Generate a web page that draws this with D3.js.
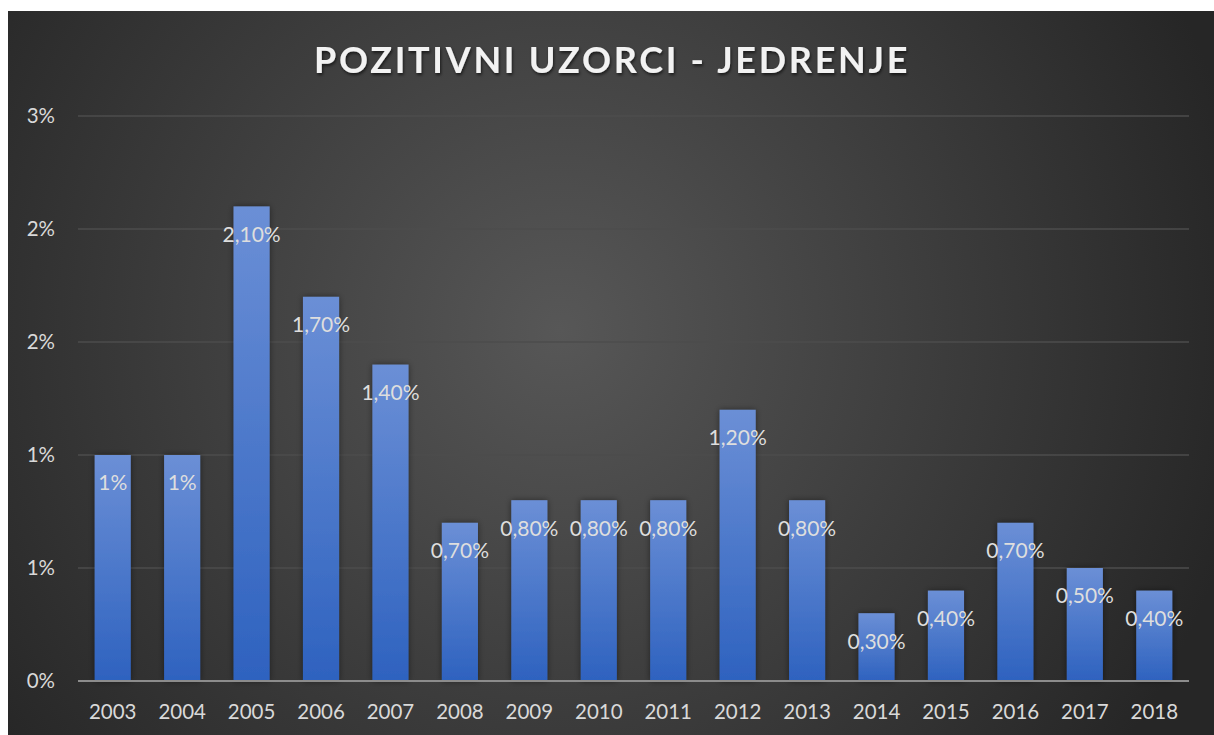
<!DOCTYPE html>
<html>
<head>
<meta charset="utf-8">
<script src="https://cdn.jsdelivr.net/npm/d3@7"></script>
<style>
  body { margin: 0; background: #fff; }
  svg { display: block; }
</style>
</head>
<body>
<script>
(function() {

    var width = 1214;
    var height = 735;

    // data
    const years = ["2003", "2004", "2005", "2006", "2007", "2008", "2009", "2010",
                   "2011", "2012", "2013", "2014", "2015", "2016", "2017", "2018"];
    const values = [0.010, 0.010, 0.021, 0.017, 0.014, 0.007, 0.008, 0.008,
                    0.008, 0.012, 0.008, 0.003, 0.004, 0.007, 0.005, 0.004];
    const labels = ["1%", "1%", "2,10%", "1,70%", "1,40%", "0,70%", "0,80%", "0,80%",
                    "0,80%", "1,20%", "0,80%", "0,30%", "0,40%", "0,70%", "0,50%", "0,40%"];
    const yTicks = [0, 0.005, 0.01, 0.015, 0.02, 0.025];
    const title = "POZITIVNI UZORCI - JEDRENJE";

    const font = "Lato, 'Open Sans', sans-serif";

    const svg = d3.select("body")
      .append("svg")
      .attr("width", width)
      .attr("height", height);

    const defs = svg.append("defs");

    //background gradient
    const bg = defs.append("radialGradient")
        .attr("id", "bg")
        .attr("gradientUnits", "userSpaceOnUse")
        .attr("cx", 560).attr("cy", 330).attr("r", 700);
    bg.append("stop").attr("offset", "0%").attr("stop-color", "#575757");
    bg.append("stop").attr("offset", "100%").attr("stop-color", "#262626");

    //bar gradient
    const bar = defs.append("linearGradient")
        .attr("id", "bar")
        .attr("x1", 0).attr("y1", 0).attr("x2", 0).attr("y2", 1);
    bar.append("stop").attr("offset", "0%").attr("stop-color", "#6b8fd6");
    bar.append("stop").attr("offset", "100%").attr("stop-color", "#2e62bf");

    const shadow = defs.append("filter").attr("id", "shadow")
        .attr("x", "-30%").attr("y", "-10%").attr("width", "160%").attr("height", "120%");
    shadow.append("feDropShadow")
        .attr("dx", 0).attr("dy", 0).attr("stdDeviation", 3)
        .attr("flood-color", "#000").attr("flood-opacity", 0.45);

    const tshadow = defs.append("filter").attr("id", "tshadow");
    tshadow.append("feDropShadow")
        .attr("dx", 1).attr("dy", 2).attr("stdDeviation", 1.5)
        .attr("flood-color", "#000").attr("flood-opacity", 0.6);

    svg.append("rect")
        .attr("x", 8).attr("y", 11)
        .attr("width", width - 8).attr("height", height - 11)
        .attr("fill", "url(#bg)");

    //scales
    const x = d3.scaleBand()
        .domain(years)
        .range([78, 1189])
        .paddingInner(0.48)
        .paddingOuter(0.24);

    const y = d3.scaleLinear()
        .domain([0, 0.025])
        .range([681, 116]);

    //gridlines
    svg.append("g")
        .selectAll("line")
        .data(yTicks.slice(1))
        .join("line")
        .attr("x1", 78).attr("x2", 1189)
        .attr("y1", d => y(d)).attr("y2", d => y(d))
        .attr("stroke", "#4c4c4c")
        .attr("stroke-width", 1.5);

    //y labels
    svg.append("g")
        .selectAll("text")
        .data(yTicks)
        .join("text")
        .attr("x", 55)
        .attr("y", d => y(d))
        .attr("dy", "0.35em")
        .attr("text-anchor", "end")
        .attr("fill", "#d9d9d9")
        .style("font-family", font)
        .style("font-size", "20.5px")
        .text(d => d3.format(".0%")(d));

    //bars
    svg.append("g")
        .selectAll("rect")
        .data(values)
        .join("rect")
        .attr("x", (d, i) => x(years[i]))
        .attr("y", d => y(d))
        .attr("width", x.bandwidth())
        .attr("height", d => y(0) - y(d))
        .attr("fill", "url(#bar)")
        .attr("filter", "url(#shadow)");

    //axis line
    svg.append("line")
        .attr("x1", 78).attr("x2", 1189)
        .attr("y1", y(0)).attr("y2", y(0))
        .attr("stroke", "#8c8c8c")
        .attr("stroke-width", 2);

    //x labels
    svg.append("g")
        .selectAll("text")
        .data(years)
        .join("text")
        .attr("x", d => x(d) + x.bandwidth() / 2)
        .attr("y", 712)
        .attr("dy", "0.35em")
        .attr("text-anchor", "middle")
        .attr("fill", "#d9d9d9")
        .style("font-family", font)
        .style("font-size", "20.5px")
        .text(d => d);

    //data labels
    svg.append("g")
        .selectAll("text")
        .data(values)
        .join("text")
        .attr("x", (d, i) => x(years[i]) + x.bandwidth() / 2)
        .attr("y", d => y(d) + 28)
        .attr("dy", "0.35em")
        .attr("text-anchor", "middle")
        .attr("fill", "#dedede")
        .style("font-family", font)
        .style("font-size", "21px")
        .text((d, i) => labels[i]);

    //title
    svg.append("text")
        .attr("x", 612)
        .attr("y", 60)
        .attr("dy", "0.35em")
        .attr("text-anchor", "middle")
        .attr("fill", "#f2f2f2")
        .attr("filter", "url(#tshadow)")
        .style("font-family", font)
        .style("font-size", "36px")
        .style("font-weight", "bold")
        .style("letter-spacing", "2.7px")
        .text(title);

})();
</script>
</body>
</html>
